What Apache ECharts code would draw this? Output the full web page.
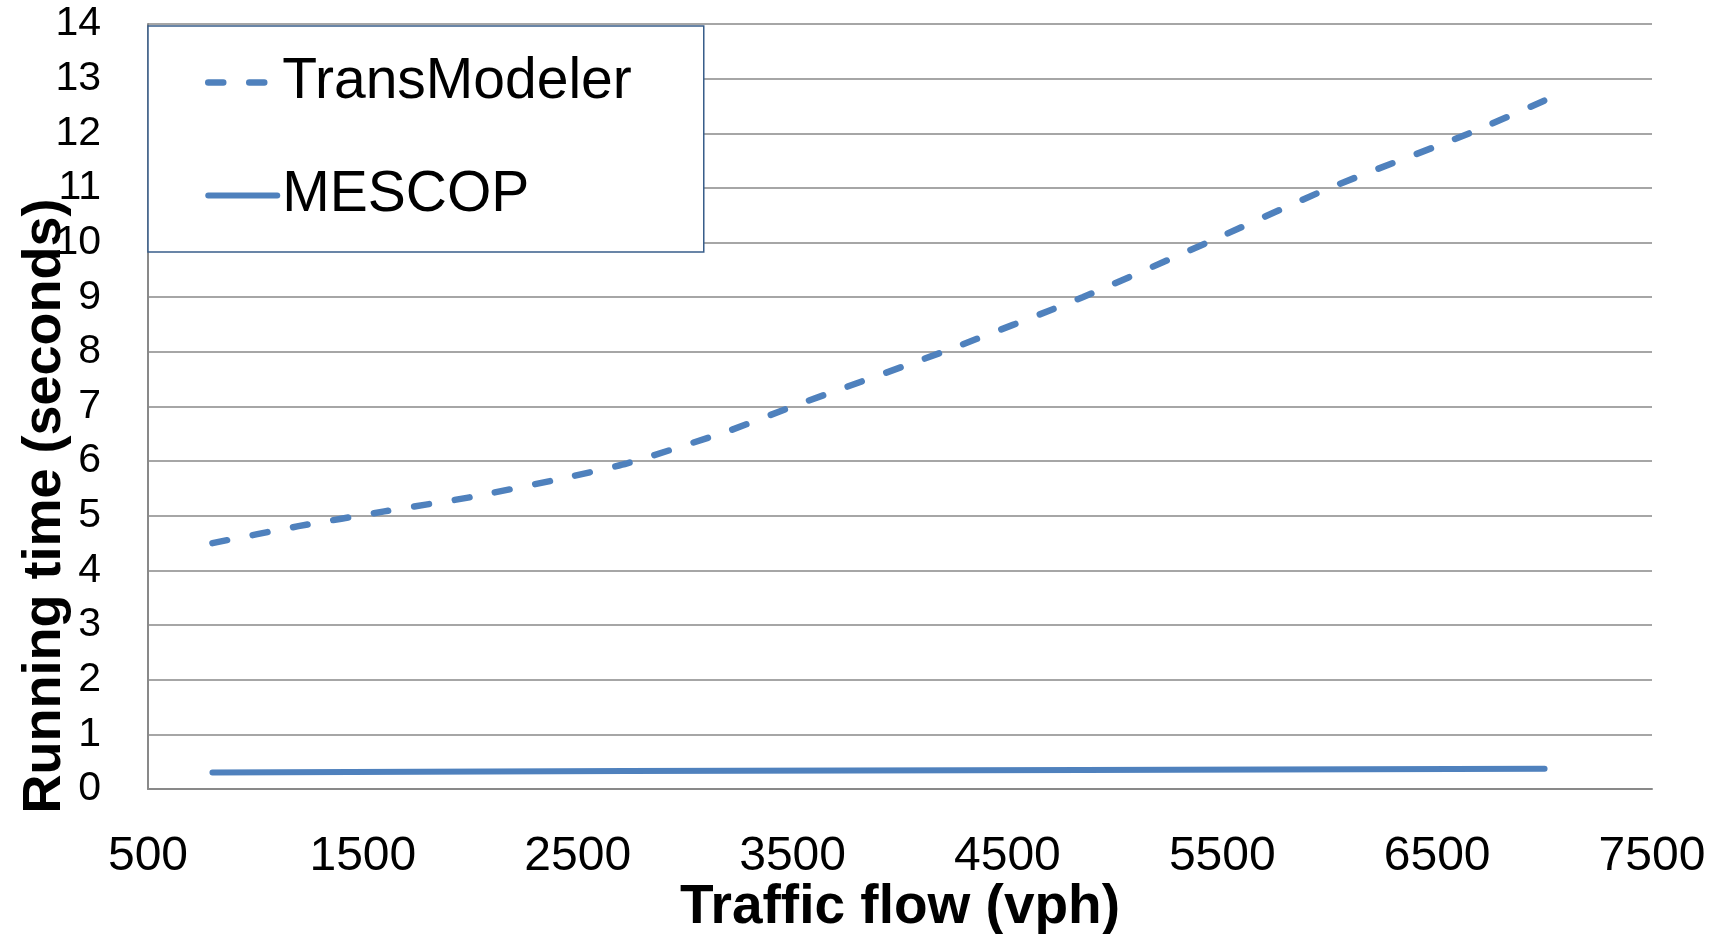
<!DOCTYPE html>
<html>
<head>
<meta charset="utf-8">
<script src="https://cdn.jsdelivr.net/npm/echarts@6/dist/echarts.min.js"></script>
<style>
html,body{margin:0;padding:0;background:#fff;}
#c{width:1721px;height:934px;}
</style>
</head>
<body>
<div id="c"></div>
<script>
// ---- data ----
var seriesNames = ['TransModeler', 'MESCOP'];
var transX = [800, 1200, 1600, 2000, 2400, 2730, 3200, 3500, 4200, 4850, 5430, 6000, 6650, 7000];
var transY = [4.5, 4.81, 5.08, 5.34, 5.66, 5.96, 6.55, 7.0, 8.0, 9.0, 10.0, 11.0, 12.0, 12.6];
var mescopX = [800, 2730, 4850, 7000];
var mescopY = [0.30, 0.33, 0.35, 0.37];
var xTicks = {min: 500, max: 7500, step: 1000};
var yTicks = {min: 0, max: 14, step: 1};
var xTitle = 'Traffic flow (vph)';
var yTitle = 'Running time (seconds)';

var FONT = '"Liberation Sans", Arial, sans-serif';
var BLUE = '#4f81bd';
var GRID = '#898989';
var DASH = [15, 26];

function pairs(xs, ys) { return xs.map(function (x, i) { return [x, ys[i]]; }); }

var chart = echarts.init(document.getElementById('c'), null, {renderer: 'canvas'});
chart.setOption({
  backgroundColor: '#ffffff',
  animation: false,
  grid: {left: 148, right: 69, top: 24, bottom: 145, containLabel: false, outerBoundsMode: 'none'},
  legend: {
    orient: 'vertical',
    left: 148,
    top: 26,
    data: [
      {name: seriesNames[0], lineStyle: {color: BLUE, width: 6.5, type: DASH, cap: 'round'}},
      {name: seriesNames[1], lineStyle: {color: BLUE, width: 6, type: 'solid', cap: 'round'}}
    ],
    itemWidth: 69,
    itemHeight: 14,
    itemGap: 56,
    itemTextGap: 10,
    padding: [28, 72, 28, 57],
    backgroundColor: '#ffffff',
    borderColor: '#385d8a',
    borderWidth: 1.5,
    borderRadius: 0,
    itemStyle: {opacity: 0},
    z: 5,
    textStyle: {fontSize: 57, lineHeight: 56, color: '#000', fontFamily: FONT}
  },
  xAxis: {
    type: 'value',
    min: xTicks.min,
    max: xTicks.max,
    interval: xTicks.step,
    name: xTitle,
    nameLocation: 'middle',
    nameGap: 91,
    nameMoveOverlap: false,
    nameTextStyle: {fontSize: 55, fontWeight: 'bold', color: '#000', fontFamily: FONT},
    axisLine: {show: true, lineStyle: {color: GRID, width: 2}},
    axisTick: {show: false},
    splitLine: {show: false},
    axisLabel: {fontSize: 48, color: '#000', margin: 44, fontFamily: FONT,
      formatter: function (v) { return String(v); }}
  },
  yAxis: {
    type: 'value',
    min: yTicks.min,
    max: yTicks.max,
    interval: yTicks.step,
    axisLine: {show: true, lineStyle: {color: GRID, width: 2}},
    axisTick: {show: false},
    splitLine: {show: true, lineStyle: {color: GRID, width: 1.5}},
    axisLabel: {fontSize: 41, color: '#000', margin: 47, fontFamily: FONT,
      formatter: function (v) { return String(v); }}
  },
  graphic: [{
    type: 'text',
    x: 45,
    y: 506,
    rotation: Math.PI / 2,
    style: {
      text: yTitle,
      fontSize: 54,
      fontWeight: 'bold',
      fontFamily: FONT,
      fill: '#000',
      align: 'center',
      verticalAlign: 'middle'
    }
  }],
  series: [
    {
      name: seriesNames[0],
      type: 'line',
      data: pairs(transX, transY),
      symbol: 'none',
      smooth: 0.2,
      lineStyle: {color: BLUE, width: 6.5, type: DASH, cap: 'round'},
      itemStyle: {color: BLUE}
    },
    {
      name: seriesNames[1],
      type: 'line',
      data: pairs(mescopX, mescopY),
      symbol: 'none',
      lineStyle: {color: BLUE, width: 6, type: 'solid', cap: 'round'},
      itemStyle: {color: BLUE}
    }
  ]
});
</script>
</body>
</html>
